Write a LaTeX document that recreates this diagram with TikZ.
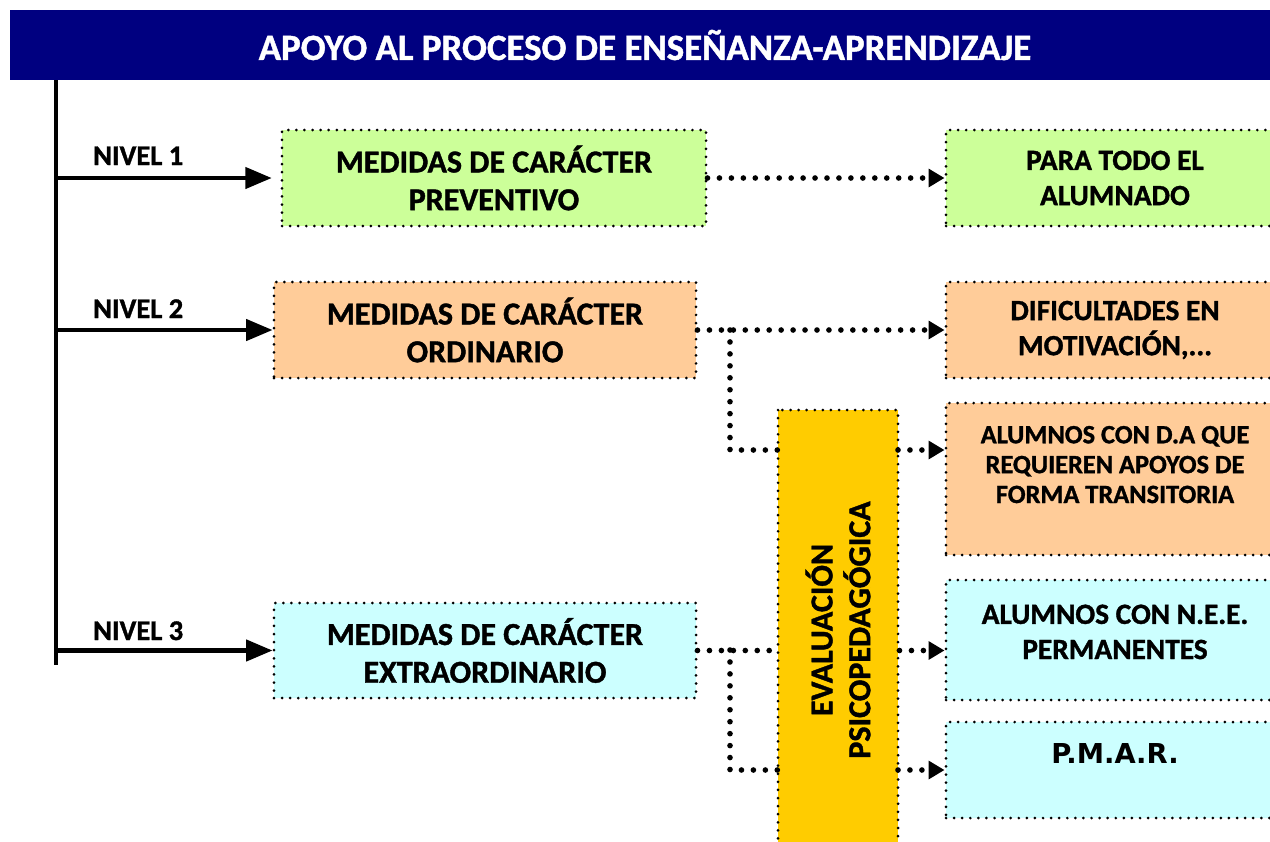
\documentclass[tikz,border=0pt]{standalone}
\usepackage{fontspec}
\setmainfont{Carlito}[BoldFont={Carlito Bold},BoldFeatures={FakeBold=1.2}]
\newfontfamily\pmarfont{DejaVu Sans}
\usetikzlibrary{arrows.meta}
\definecolor{titleblue}{HTML}{000080}
\definecolor{lgreen}{HTML}{CCFF99}
\definecolor{lorange}{HTML}{FFCC99}
\definecolor{lcyan}{HTML}{CCFFFF}
\definecolor{gold}{HTML}{FFCC00}

\begin{document}
\begin{tikzpicture}
\useasboundingbox (0,0) rectangle (25.4,-16.82);

\node (T)[fill=titleblue,text=white,minimum width=25.4cm,minimum height=1.4cm,
  font=\fontsize{21}{25}\selectfont\bfseries] at (12.9,-0.9) {APOYO AL PROCESO DE ENSEÑANZA-APRENDIZAJE};

\coordinate (trunk) at (1.12,-1.6);
\coordinate (trunkend) at (1.12,-13.3);
\draw[line width=2.8pt] (trunk) -- (trunkend);

\begin{scope}[every node/.style={draw,line width=1.7pt,dash pattern=on 0pt off 4.6pt,line cap=round,
              align=center,inner sep=0pt,font=\fontsize{18.2}{21.5}\selectfont\bfseries}]
    \node (M1)[fill=lgreen,minimum width=8.48cm,minimum height=1.92cm] at (9.88,-3.56) {MEDIDAS DE CARÁCTER\\PREVENTIVO};
    \node (M2)[fill=lorange,minimum width=8.44cm,minimum height=1.92cm] at (9.70,-6.60) {MEDIDAS DE CARÁCTER\\ORDINARIO};
    \node (M3)[fill=lcyan,minimum width=8.44cm,minimum height=1.9cm] at (9.70,-13.01) {MEDIDAS DE CARÁCTER\\EXTRAORDINARIO};
    \node (E)[fill=gold,rotate=90,minimum width=8.8cm,minimum height=2.4cm] at (16.76,-12.6) {EVALUACIÓN\\PSICOPEDAGÓGICA};
\end{scope}

\begin{scope}[every node/.style={draw,line width=1.7pt,dash pattern=on 0pt off 4.6pt,line cap=round,
              align=center,inner sep=0pt,minimum width=6.76cm,font=\fontsize{16.7}{20}\selectfont\bfseries}]
    \node (R1)[fill=lgreen,minimum height=1.92cm] at (22.30,-3.56) {PARA TODO EL\\ALUMNADO};
    \node (R2)[fill=lorange,minimum height=1.92cm] at (22.30,-6.60) {DIFICULTADES EN\\MOTIVACIÓN,...};
    \node (R3)[fill=lorange,minimum height=3.04cm,text height=1.2cm,text depth=0.24cm,
               font=\fontsize{15}{17}\selectfont\bfseries] at (22.30,-9.58) {ALUMNOS CON D.A QUE\\REQUIEREN APOYOS DE\\FORMA TRANSITORIA};
    \node (R4)[fill=lcyan,minimum height=2.4cm,text height=1.0cm,text depth=0.24cm] at (22.30,-12.80) {ALUMNOS CON N.E.E.\\PERMANENTES};
    \node (R5)[fill=lcyan,minimum height=1.92cm,text height=0.45cm,text depth=0.73cm,
               font=\fontsize{15.6}{18}\selectfont\pmarfont\bfseries] at (22.30,-15.40) {P.M.A.R.};
\end{scope}

% niveles
\begin{scope}[every node/.style={anchor=base west,font=\fontsize{16.2}{19}\selectfont\bfseries},
              every edge/.style={draw,line width=2.3pt,-{Triangle[length=15pt,width=12pt]}}]
    \node (N1) at (1.74,-3.30) {NIVEL 1};
    \node (N2) at (1.74,-6.36) {NIVEL 2};
    \node (N3) at (1.74,-12.80) {NIVEL 3};
    \path (trunk |- M1) edge[shorten >=5pt] (M1.west);
    \path (trunk |- M2) edge (M2.west);
    \path (trunk |- M3) edge (M3.west);
\end{scope}

\coordinate (b2) at (14.6,-6.60);
\coordinate (in2) at (15.56,-9.0);
\coordinate (out2) at (17.96,-9.0);
\coordinate (b3) at (14.6,-13.0);
\coordinate (in3) at (15.56,-15.4);
\coordinate (out3) at (17.96,-15.4);

\begin{scope}[every edge/.style={draw,line width=3.2pt,dash pattern=on 0pt off 6.8pt,line cap=round},
              tip/.style={-{Triangle[length=9pt,width=10pt]}}]
    \path (M1) edge[tip] (R1);
    \path (M2) edge[tip] (R2);
    \path (b2) edge[to path={|- (\tikztotarget)}] (in2);
    \path (out2) edge[tip] (R3.west |- out2);
    \path (M3.east) edge (M3 -| E.north);
    \path (E.south |- M3) edge[tip] (R4.west |- M3);
    \path (b3) edge[to path={|- (\tikztotarget)}] (in3);
    \path (out3) edge[tip] (R5.west |- out3);
\end{scope}
\end{tikzpicture}
\end{document}
